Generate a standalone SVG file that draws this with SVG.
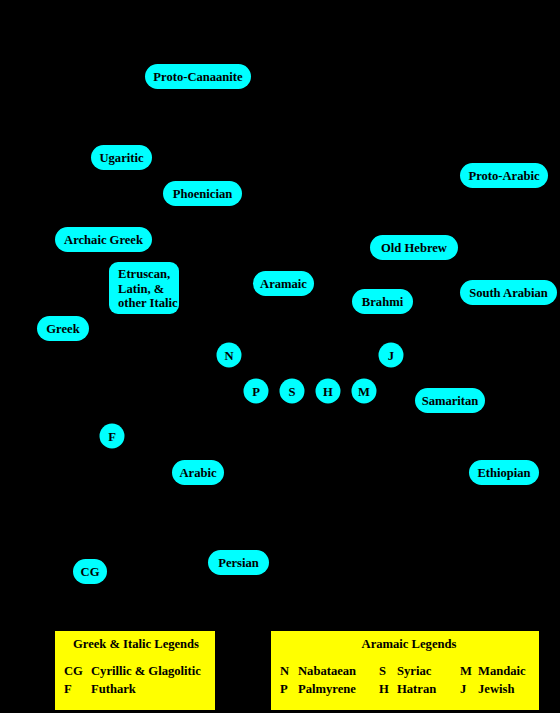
<svg xmlns="http://www.w3.org/2000/svg" width="560" height="713" viewBox="0 0 560 713">
<style>
.n{fill:#00ffff}
.t{font-family:"Liberation Serif","Times New Roman",serif;font-weight:bold;font-size:12.6px;fill:#000;text-anchor:middle}
.l{font-family:"Liberation Serif","Times New Roman",serif;font-weight:bold;font-size:12.6px;fill:#000}
.lg{fill:#ffff00}
</style>
<rect x="0" y="0" width="560" height="713" fill="#000"/>
<g id="connectors"></g>
<g id="proto-canaanite"><rect class="n" x="145" y="64" width="106" height="25" rx="12.5"/><text class="t" x="198" y="81">Proto-Canaanite</text></g>
<g id="ugaritic"><rect class="n" x="91" y="145" width="61" height="25" rx="12.5"/><text class="t" x="121.5" y="162">Ugaritic</text></g>
<g id="phoenician"><rect class="n" x="163" y="181" width="79" height="25" rx="12.5"/><text class="t" x="202.5" y="198">Phoenician</text></g>
<g id="proto-arabic"><rect class="n" x="460" y="163" width="88" height="25" rx="12.5"/><text class="t" x="504" y="180">Proto-Arabic</text></g>
<g id="archaic-greek"><rect class="n" x="55" y="227" width="97" height="25" rx="12.5"/><text class="t" x="103.5" y="244">Archaic Greek</text></g>
<g id="old-hebrew"><rect class="n" x="370" y="235" width="88" height="25" rx="12.5"/><text class="t" x="414" y="252">Old Hebrew</text></g>
<g id="etruscan"><rect class="n" x="109" y="262" width="70" height="52" rx="9"/><text class="l" x="118" y="278">Etruscan,</text><text class="l" x="118" y="293">Latin, &amp;</text><text class="l" x="118" y="307">other Italic</text></g>
<g id="aramaic"><rect class="n" x="253" y="271" width="61" height="25" rx="12.5"/><text class="t" x="283.5" y="288">Aramaic</text></g>
<g id="south-arabian"><rect class="n" x="460" y="280" width="97" height="25" rx="12.5"/><text class="t" x="508.5" y="297">South Arabian</text></g>
<g id="brahmi"><rect class="n" x="352" y="289" width="61" height="25" rx="12.5"/><text class="t" x="382.5" y="306">Brahmi</text></g>
<g id="greek"><rect class="n" x="37" y="316" width="52" height="25" rx="12.5"/><text class="t" x="63" y="333">Greek</text></g>
<g id="N"><circle class="n" cx="229" cy="355" r="12.5"/><text class="t" x="229" y="360">N</text></g>
<g id="J"><circle class="n" cx="391" cy="355" r="12.5"/><text class="t" x="391" y="360">J</text></g>
<g id="P"><circle class="n" cx="256" cy="391" r="12.5"/><text class="t" x="256" y="396">P</text></g>
<g id="S"><circle class="n" cx="292" cy="391" r="12.5"/><text class="t" x="292" y="396">S</text></g>
<g id="H"><circle class="n" cx="328" cy="391" r="12.5"/><text class="t" x="328" y="396">H</text></g>
<g id="M"><circle class="n" cx="364" cy="391" r="12.5"/><text class="t" x="364" y="396">M</text></g>
<g id="samaritan"><rect class="n" x="415" y="388" width="70" height="25" rx="12.5"/><text class="t" x="450" y="405">Samaritan</text></g>
<g id="F"><circle class="n" cx="112" cy="436" r="12.5"/><text class="t" x="112" y="441">F</text></g>
<g id="arabic"><rect class="n" x="172" y="460" width="52" height="25" rx="12.5"/><text class="t" x="198" y="477">Arabic</text></g>
<g id="ethiopian"><rect class="n" x="469" y="460" width="70" height="25" rx="12.5"/><text class="t" x="504" y="477">Ethiopian</text></g>
<g id="persian"><rect class="n" x="208" y="550" width="61" height="25" rx="12.5"/><text class="t" x="238.5" y="567">Persian</text></g>
<g id="CG"><rect class="n" x="73" y="559" width="34" height="25" rx="12.5"/><text class="t" x="90" y="576">CG</text></g>
<g id="legend-greek">
<rect class="lg" x="55" y="631" width="160" height="79"/>
<text class="t" x="136" y="648">Greek &amp; Italic Legends</text>
<text class="l" x="64" y="675">CG</text><text class="l" x="91" y="675">Cyrillic &amp; Glagolitic</text>
<text class="l" x="64" y="693">F</text><text class="l" x="91" y="693">Futhark</text>
</g>
<g id="legend-aramaic">
<rect class="lg" x="271" y="631" width="268" height="79"/>
<text class="t" x="409" y="648">Aramaic Legends</text>
<text class="l" x="280" y="675">N</text><text class="l" x="298" y="675">Nabataean</text>
<text class="l" x="379" y="675">S</text><text class="l" x="397" y="675">Syriac</text>
<text class="l" x="460" y="675">M</text><text class="l" x="478" y="675">Mandaic</text>
<text class="l" x="280" y="693">P</text><text class="l" x="298" y="693">Palmyrene</text>
<text class="l" x="379" y="693">H</text><text class="l" x="397" y="693">Hatran</text>
<text class="l" x="460" y="693">J</text><text class="l" x="478" y="693">Jewish</text>
</g>
</svg>
